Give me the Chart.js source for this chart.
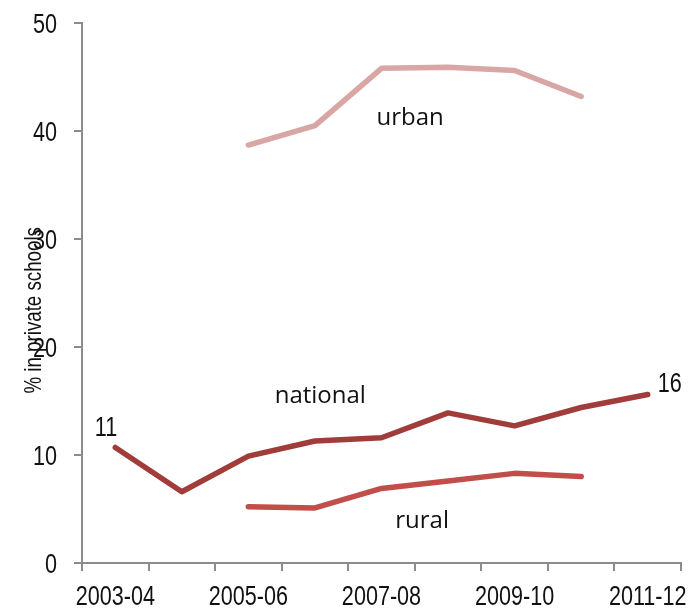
<!DOCTYPE html>
<html>
<head>
<meta charset="utf-8">
<script src="https://cdn.jsdelivr.net/npm/chart.js@4/dist/chart.umd.min.js"></script>
<style>
  html, body { margin: 0; padding: 0; background: #fff; }
  #wrap { width: 691px; height: 612px; position: relative; }
</style>
</head>
<body>
<div id="wrap"><canvas id="chart"></canvas></div>
<script>
// Share of children in private schools, by year
const years = ['2003-04', '2004-05', '2005-06', '2006-07', '2007-08', '2008-09', '2009-10', '2010-11', '2011-12'];
const national = [10.7, 6.6, 9.9, 11.3, 11.6, 13.9, 12.7, 14.4, 15.6];
const urban = [null, null, 38.7, 40.5, 45.8, 45.9, 45.6, 43.2, null];
const rural = [null, null, 5.2, 5.1, 6.9, 7.6, 8.3, 8.0, null];
const yTicks = [0, 10, 20, 30, 40, 50];

// text labels placed on the chart: [text, category index, value at baseline]
const notes = [
  ['urban', 4.43, 40.6],
  ['national', 3.08, 14.8],
  ['rural', 4.61, 3.2],
  ['11', -0.14, 11.8],
  ['16', 8.33, 15.8],
];

const AXIS = '#8c8c8c';
const SANS = '"Liberation Sans", Arial, sans-serif';

// narrow, tall text like the original (Arial squeezed horizontally)
function narrowText(ctx, txt, x, y, size, align, sx) {
  ctx.save();
  ctx.font = size + 'px ' + SANS;
  ctx.translate(x, y);
  ctx.scale(sx || 0.8, 1);
  ctx.textAlign = align;
  ctx.textBaseline = 'alphabetic';
  ctx.fillText(txt, 0, 0);
  ctx.restore();
}

const textPlugin = {
  id: 'texts',
  afterDraw(chart) {
    const { ctx, scales: { x, y }, chartArea } = chart;
    const step = x.getPixelForValue(1) - x.getPixelForValue(0);
    ctx.save();
    ctx.fillStyle = '#111';
    // tick labels
    yTicks.forEach(v => narrowText(ctx, String(v), chartArea.left - 25, y.getPixelForValue(v) + 10, 27, 'right'));
    years.forEach((lab, i) => {
      if (i % 2 === 0) narrowText(ctx, lab, x.getPixelForValue(i), chartArea.bottom + 42, 27, 'center');
    });
    // annotations
    notes.forEach(([txt, i, v]) => {
      const px = x.getPixelForValue(0) + i * step;
      const py = y.getPixelForValue(v);
      if (/^\d+$/.test(txt)) {
        narrowText(ctx, txt, px, py, 27, 'center');
      } else {
        ctx.font = '24px "Open Sans", sans-serif';
        ctx.textAlign = 'center';
        ctx.textBaseline = 'alphabetic';
        ctx.fillText(txt, px, py);
      }
    });
    // y axis title, overlapping the tick labels as in the original
    ctx.translate(chartArea.left - 41, y.getPixelForValue(23.4));
    ctx.rotate(-Math.PI / 2);
    narrowText(ctx, '% in private schools', 0, 0, 24, 'center', 0.78);
    ctx.restore();
  }
};

new Chart(document.getElementById('chart'), {
  type: 'line',
  data: {
    labels: years,
    datasets: [
      { label: 'urban', data: urban, borderColor: '#d8a6a4' },
      { label: 'national', data: national, borderColor: '#a03c3a' },
      { label: 'rural', data: rural, borderColor: '#c24e4b' },
    ].map(d => Object.assign(d, { borderWidth: 5.5, pointRadius: 0, tension: 0, fill: false, borderCapStyle: 'round', borderJoinStyle: 'round' }))
  },
  options: {
    responsive: true,
    maintainAspectRatio: false,
    animation: false,
    layout: { padding: { left: 0, right: 10, top: 23, bottom: 0 } },
    plugins: { legend: { display: false }, tooltip: { enabled: false } },
    scales: {
      x: {
        offset: true,
        afterFit: ax => { ax.height = 49; },
        border: { color: AXIS, width: 2 },
        grid: { display: true, drawOnChartArea: false, drawTicks: true, tickLength: 8, color: AXIS, lineWidth: 2, offset: true },
        ticks: { display: false, autoSkip: false }
      },
      y: {
        min: 0, max: 50,
        afterFit: ax => { ax.width = 82; },
        afterBuildTicks: ax => { ax.ticks = yTicks.map(v => ({ value: v })); },
        border: { color: AXIS, width: 2 },
        grid: { display: true, drawOnChartArea: false, drawTicks: true, tickLength: 8, color: AXIS, lineWidth: 2 },
        ticks: { display: false }
      }
    }
  },
  plugins: [textPlugin]
});
</script>
</body>
</html>
